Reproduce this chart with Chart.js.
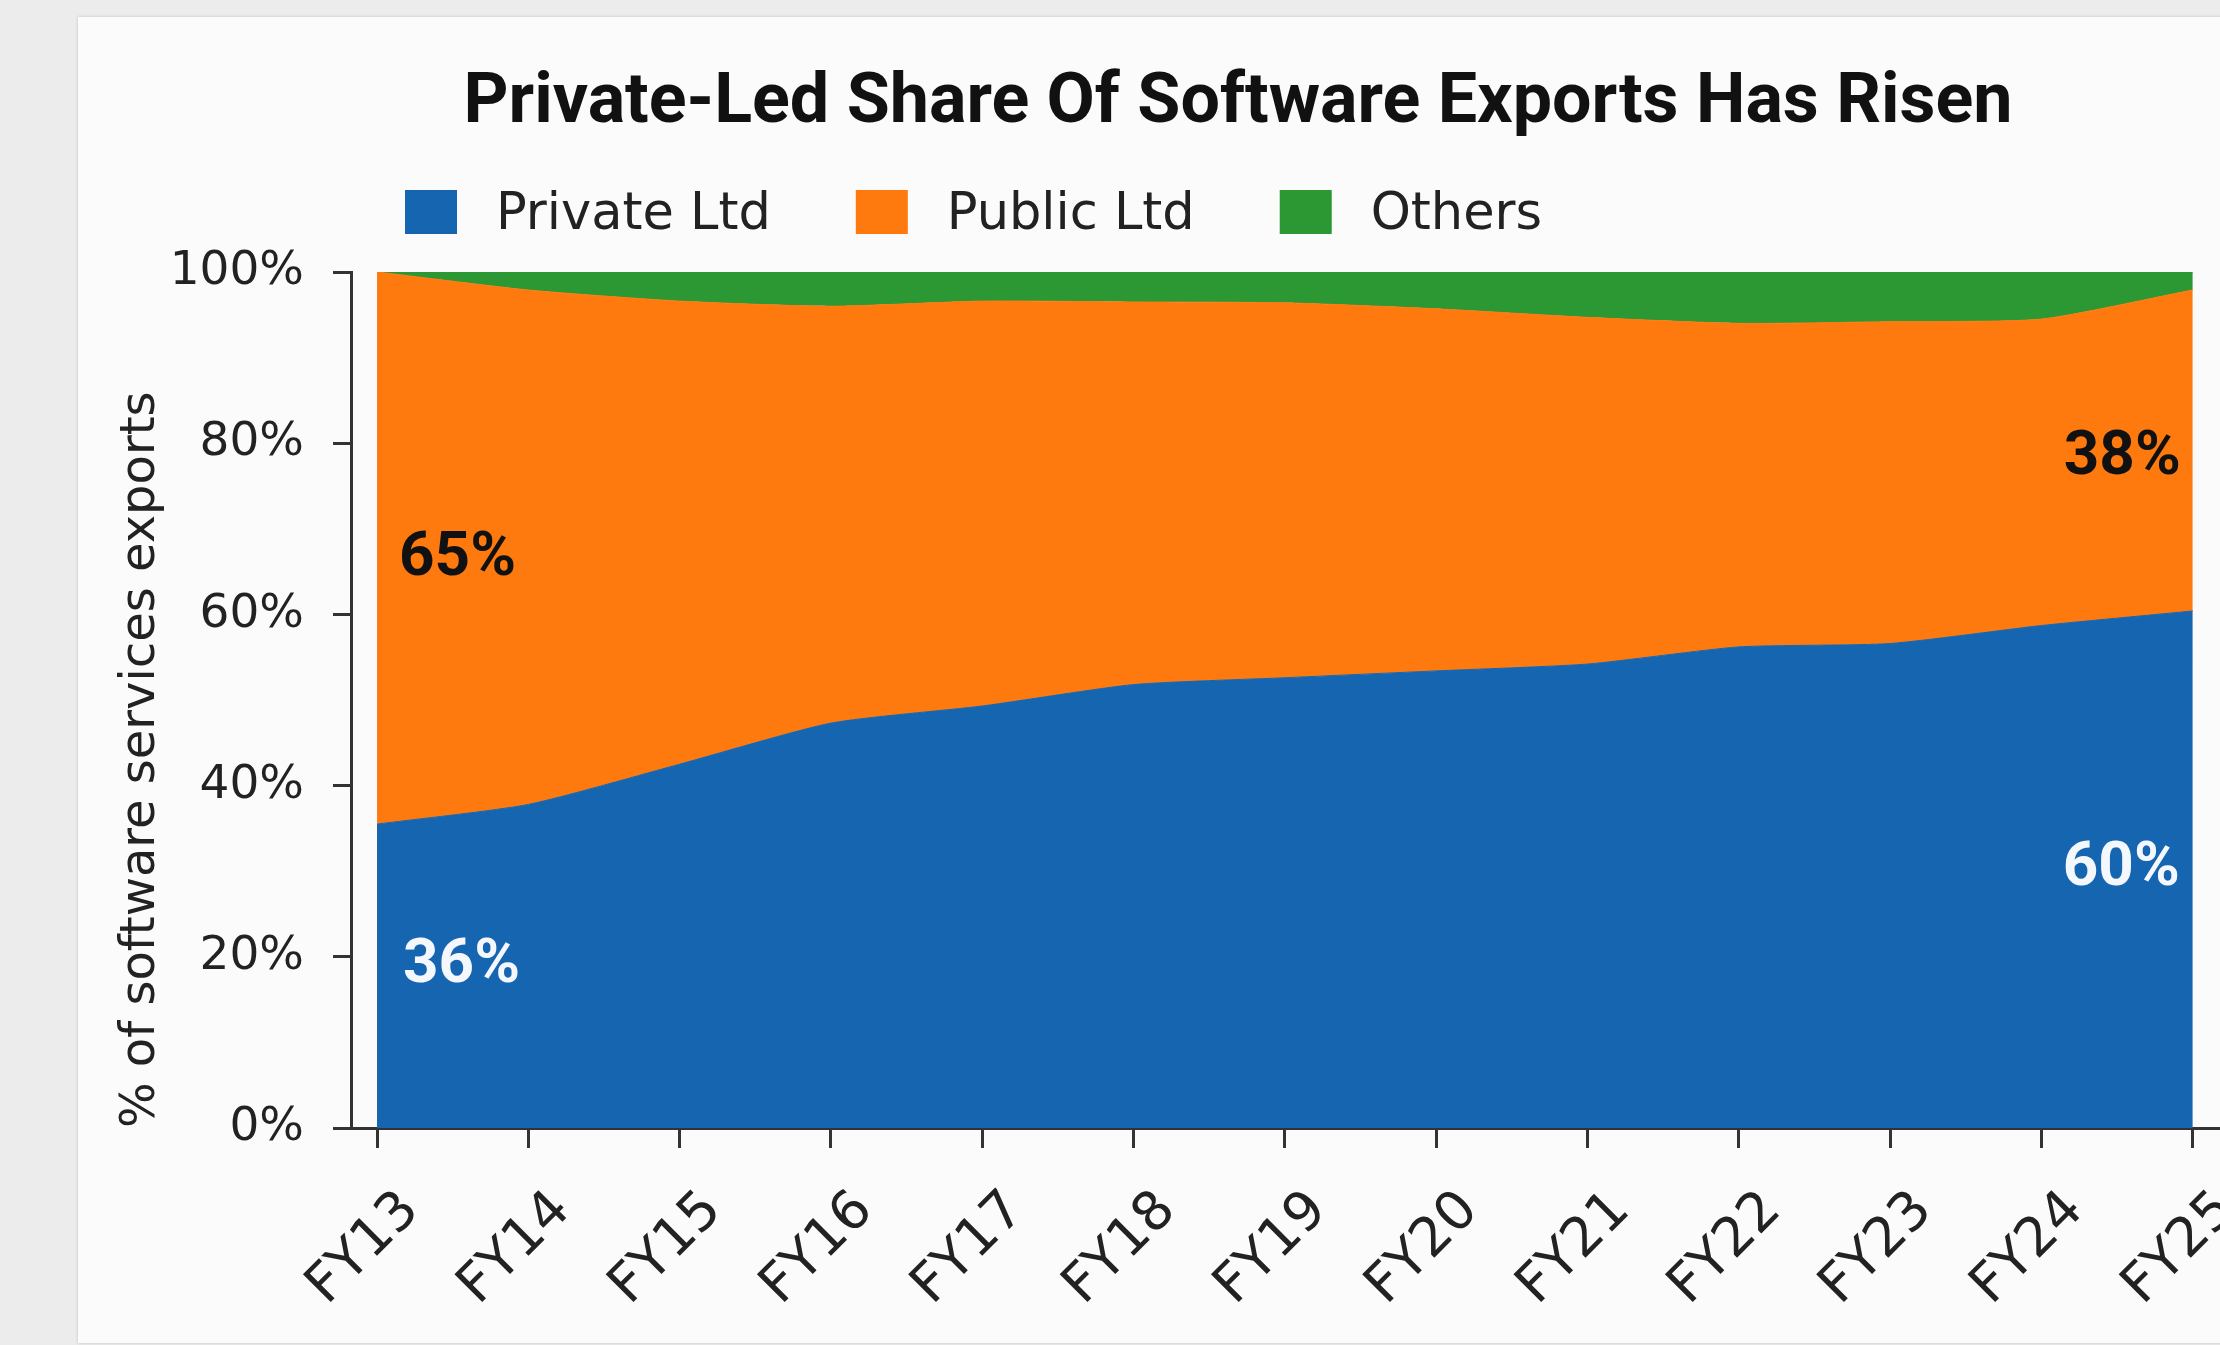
<!DOCTYPE html>
<html>
<head>
<meta charset="utf-8">
<title>Private-Led Share Of Software Exports Has Risen</title>
<script src="https://cdn.jsdelivr.net/npm/chart.js@4.4.1/dist/chart.umd.min.js"></script>
<style>
  html, body { margin: 0; padding: 0; }
  body { width: 2220px; height: 1345px; background: #ececec; overflow: hidden; position: relative; }
  .card { position: absolute; left: 78px; top: 17px; width: 2200px; height: 1326px; background: #fbfbfb; box-shadow: 0 0 3px rgba(0, 0, 0, 0.18); }
  #wrap { position: absolute; left: 0; top: 0; width: 2220px; height: 1345px; }
</style>
</head>
<body>
<div class="card"></div>
<div id="wrap"><canvas id="chart"></canvas></div>
<script>
const years = ['FY13', 'FY14', 'FY15', 'FY16', 'FY17', 'FY18', 'FY19', 'FY20', 'FY21', 'FY22', 'FY23', 'FY24', 'FY25'];
// share of software services exports, % (stacked to 100)
const privateLtd = [35.5, 37.8, 42.5, 47.3, 49.3, 51.8, 52.6, 53.4, 54.2, 56.2, 56.6, 58.7, 60.4];
const publicLtd  = [64.5, 60.1, 54.1, 48.7, 47.3, 44.7, 43.8, 42.3, 40.5, 37.8, 37.6, 35.8, 37.5];
const others     = [0.0, 2.1, 3.4, 4.0, 3.4, 3.5, 3.6, 4.3, 5.3, 6.0, 5.8, 5.5, 2.1];
const yTicks = [0, 20, 40, 60, 80, 100];

const TITLE = 'Private-Led Share Of Software Exports Has Risen';
const BLUE = '#1665b0';
const ORANGE = '#fe7a0f';
const GREEN = '#2b9834';

Chart.defaults.font.family = "'DejaVu Sans', sans-serif";
Chart.defaults.color = '#222';

const toPoints = arr => arr.map((v, i) => ({ x: i, y: v }));

// title + legend row drawn by hand so the spacing can be controlled
const headerPlugin = {
    id: 'header',
    afterDraw(chart) {
        const ctx = chart.ctx;
        ctx.save();
        ctx.fillStyle = '#111';
        ctx.font = 'bold 70px Roboto';
        ctx.textAlign = 'center';
        ctx.textBaseline = 'middle';
        ctx.fillText(TITLE, 1238, 104);

        ctx.font = "51px 'DejaVu Sans'";
        ctx.textAlign = 'left';
        let x = 405;
        chart.data.datasets.forEach(ds => {
            ctx.fillStyle = ds.backgroundColor;
            ctx.fillRect(x, 190, 52, 44);
            ctx.fillStyle = '#222';
            ctx.fillText(ds.label, x + 91, 216);
            x += 91 + ctx.measureText(ds.label).width + 85;
        });
        ctx.restore();
    }
};

// first / last year share labels inside the bands
const shareLabels = {
    id: 'shareLabels',
    afterDatasetsDraw(chart) {
        const { ctx, scales: { x, y } } = chart;
        const first = 0;
        const last = years.length - 1;
        const fmt = v => Math.round(v) + '%';
        ctx.save();
        ctx.font = 'bold 62px Roboto';
        ctx.textBaseline = 'middle';

        ctx.textAlign = 'left';
        ctx.fillStyle = '#111';
        ctx.fillText(fmt(publicLtd[first]), x.getPixelForValue(first) + 22,
            y.getPixelForValue(privateLtd[first] + publicLtd[first] / 2) + 11);
        ctx.fillStyle = '#f4f8fc';
        ctx.fillText(fmt(privateLtd[first]), x.getPixelForValue(first) + 26,
            y.getPixelForValue(privateLtd[first] / 2) - 10);

        ctx.textAlign = 'right';
        ctx.fillStyle = '#111';
        ctx.fillText(fmt(publicLtd[last]), x.getPixelForValue(last) - 12,
            y.getPixelForValue(privateLtd[last] + publicLtd[last] / 2) + 8);
        ctx.fillStyle = '#f4f8fc';
        ctx.fillText(fmt(privateLtd[last]), x.getPixelForValue(last) - 13,
            y.getPixelForValue(privateLtd[last] / 2));
        ctx.restore();
    }
};

new Chart(document.getElementById('chart'), {
    type: 'line',
    data: {
        datasets: [
            { label: 'Private Ltd', data: toPoints(privateLtd), backgroundColor: BLUE, borderColor: BLUE, fill: 'origin' },
            { label: 'Public Ltd', data: toPoints(publicLtd), backgroundColor: ORANGE, borderColor: ORANGE, fill: '-1' },
            { label: 'Others', data: toPoints(others), backgroundColor: GREEN, borderColor: GREEN, fill: '-1' }
        ]
    },
    options: {
        responsive: true,
        maintainAspectRatio: false,
        devicePixelRatio: 1,
        animation: false,
        layout: { padding: { top: 272, left: 90, right: 0, bottom: 0 } },
        elements: {
            point: { radius: 0 },
            line: { borderWidth: 1, tension: 0.2 }
        },
        plugins: {
            legend: { display: false },
            title: { display: false },
            tooltip: { enabled: false }
        },
        scales: {
            x: {
                type: 'linear',
                min: -0.172,
                max: 12.18,
                grid: { drawOnChartArea: false, drawTicks: true, tickLength: 20, tickWidth: 3, tickColor: '#333' },
                border: { display: true, color: '#333', width: 3 },
                afterBuildTicks: s => { s.ticks = years.map((_, i) => ({ value: i })); },
                afterFit: s => { s.height = 217; s.paddingLeft = 0; s.paddingRight = 0; },
                ticks: {
                    autoSkip: false,
                    minRotation: 45,
                    maxRotation: 45,
                    labelOffset: 34,
                    padding: 31,
                    font: { size: 54 },
                    color: '#222',
                    callback: v => years[v] ?? ''
                }
            },
            y: {
                stacked: true,
                min: 0,
                max: 100,
                grid: { drawOnChartArea: false, drawTicks: true, tickLength: 18, tickWidth: 3, tickColor: '#333' },
                border: { display: true, color: '#333', width: 3 },
                afterBuildTicks: s => { s.ticks = yTicks.map(v => ({ value: v })); },
                afterFit: s => { s.width = 261; },
                ticks: {
                    padding: 29,
                    font: { size: 47 },
                    color: '#222',
                    callback: v => v + '%'
                },
                title: {
                    display: true,
                    text: '% of software services exports',
                    align: 'start',
                    font: { size: 48 },
                    color: '#222',
                    padding: { top: 23, bottom: 0 }
                }
            }
        }
    },
    plugins: [headerPlugin, shareLabels]
});
</script>
</body>
</html>
